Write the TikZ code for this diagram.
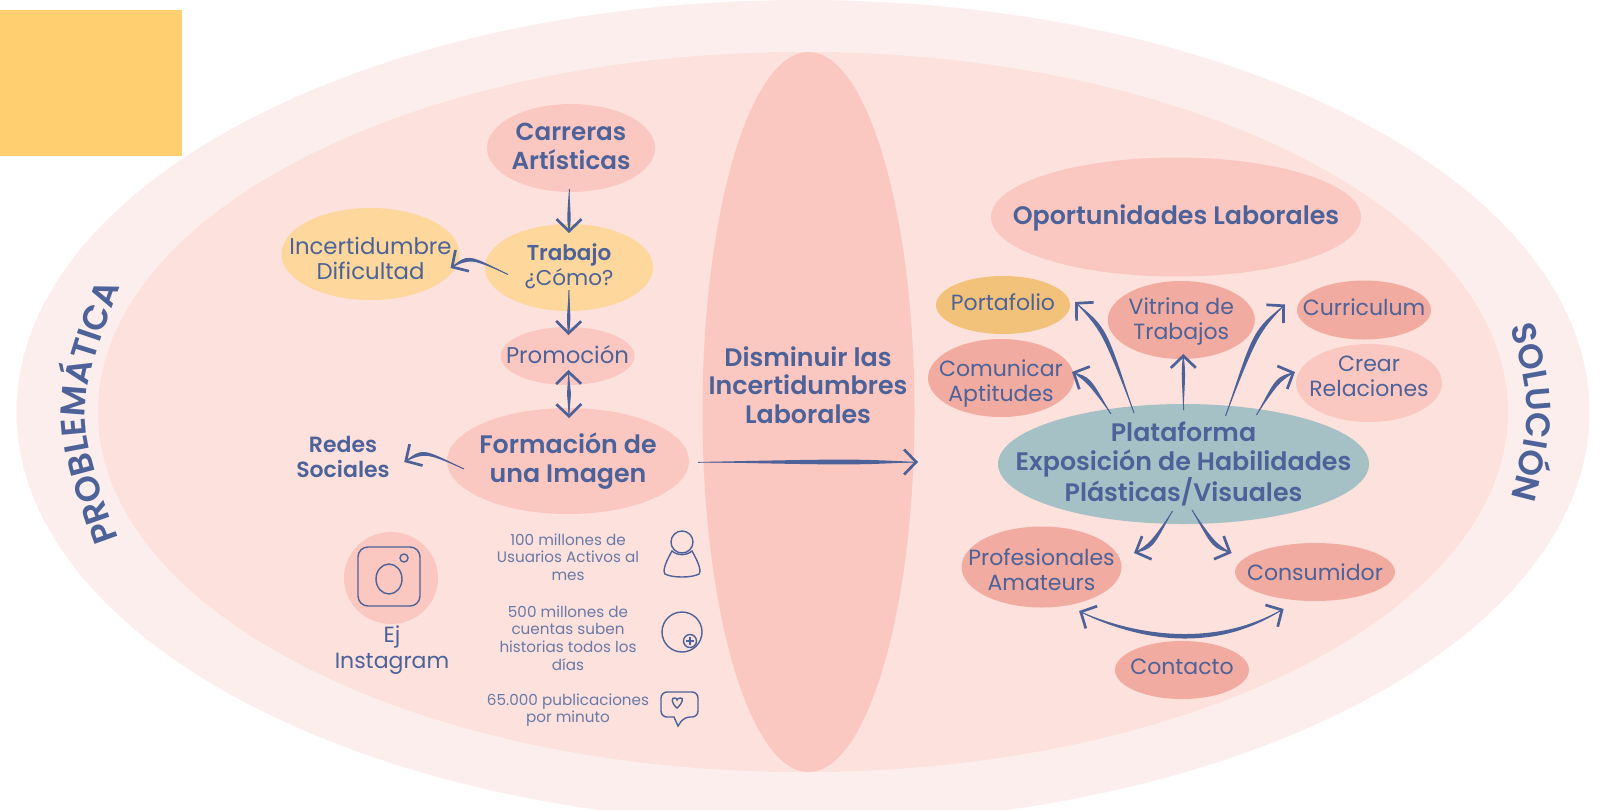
\documentclass[tikz,border=0pt]{standalone}
\usepackage{fontspec}
\setmainfont{Poppins}[BoldFont={Poppins SemiBold}]
\usepackage{xcolor}
\definecolor{azul}{RGB}{76, 98, 152}
\definecolor{rosaclaro}{RGB}{252, 238, 236}
\definecolor{rosafondo}{RGB}{253, 225, 220}
\definecolor{rosa}{RGB}{250, 200, 193}
\definecolor{salmon}{RGB}{241, 171, 160}
\definecolor{amarillo}{RGB}{253, 215, 155}
\definecolor{amarillofuerte}{RGB}{255, 207, 112}
\definecolor{mostaza}{RGB}{242, 194, 123}
\definecolor{verdoso}{RGB}{166, 193, 197}
\usetikzlibrary{arrows.meta, bending, calc, shapes.geometric, decorations.text}
\tikzset{
  burbuja/.style 2 args={ellipse, minimum width=#1pt, minimum height=#2pt, inner xsep=-250pt, inner ysep=-120pt, outer sep=0pt, align=center, text=azul},
  texto/.style={font=\fontsize{#1}{25.5}\selectfont, text=azul, align=center},
  texto/.default=22,
  negrita/.style={font=\fontsize{#1}{28.5}\selectfont\bfseries, text=azul, align=center},
  negrita/.default=25.3,
  chico/.style={font=\fontsize{15.2}{17.6}\selectfont, text=azul!85, align=center},
  flecha/.style={azul, line width=1pt, -{Straight Barb[length=12pt, width=25pt, line width=2.7pt, flex=0]}},
  flechadoble/.style={azul, line width=1pt, {Straight Barb[length=12pt, width=25pt, line width=2.7pt, flex=0]}-{Straight Barb[length=12pt, width=25pt, line width=2.7pt, flex=0]}},
  icono/.style={draw=azul, line width=1.4pt}
}
\newcommand{\flecha}[4][2.2pt]{%
  \coordinate (fC) at ($#2!.7!#3!#4!90:#3$);
  \draw[flecha] #2 .. controls (fC) .. #3;
  \fill[azul] #2 .. controls ($(fC)!#1!90:#3$) .. #3 .. controls ($(fC)!#1!-90:#3$) .. #2;
}
\newcommand{\bajo}[1]{\rule{0pt}{#1}}
\newcommand{\alto}[1]{\rule[-#1]{0pt}{#1}}

\begin{document}
\begin{tikzpicture}[x=1pt, y=-1pt]
  \useasboundingbox (0,0) rectangle (1605,809);
  \clip (0,0) rectangle (1605,809);
  \node[burbuja={1573}{824}, fill=rosaclaro] (exterior) at (803,412) {};
  \node[burbuja={1410}{720}, fill=rosafondo] (interior) at (803,412) {};
  \node[burbuja={212}{720}, fill=rosa] (centro) at (808.5,412) {};
  \fill[amarillofuerte] (0,10) rectangle (182,156);

  \path[decorate, decoration={text along path, text align=center, text color=azul,
    text={|\fontsize{34.5}{34.5}\selectfont\bfseries|PROBLEMÁTICA}}] (124,555) .. controls (72,412) .. (126,270);
  \path[decorate, decoration={text along path, text align=center, text color=azul,
    text={|\fontsize{34}{34}\selectfont\bfseries|SOLUCIÓN}}] (1507,312) .. controls (1533,412) .. (1507,512);

  \node[burbuja={168}{88}, fill=rosa, negrita=24.6] (carreras) at (571,148) {Carreras\\\alto{3pt}Artísticas};
  \node[burbuja={168}{87}, fill=amarillo, texto=21.5] (trabajo) at (569,267.5) {\textbf{Trabajo}\\\alto{6pt}¿Cómo?};
  \node[burbuja={178}{92}, fill=amarillo, texto=22.8] (incertidumbre) at (370.5,254) {\bajo{26pt}Incertidumbre\\Dificultad};
  \node[burbuja={134}{58}, fill=rosa, texto=22.8] (promocion) at (567.5,356) {\alto{4pt}Promoción};
  \node[burbuja={242}{106}, fill=rosa, negrita] (formacion) at (568,461) {Formación de\\una Imagen};
  \node[texto, font=\fontsize{22}{25.5}\selectfont\bfseries] (redes) at (343,457) {Redes\\Sociales};
  \node[burbuja={94}{92}, fill=rosa] (instagram) at (391,578) {};
  \node[texto] (ej) at (392,650) {Ej\\Instagram};
  \node[chico] (usuarios) at (568,557) {100 millones de\\Usuarios Activos al\\mes};
  \node[chico] (historias) at (568,638) {500 millones de\\cuentas suben\\historias todos los\\días};
  \node[chico] (publicaciones) at (568,710) {65.000 publicaciones\\por minuto};

  \node[negrita] (disminuir) at (808,385) {Disminuir las\\Incertidumbres\\Laborales};

  \node[burbuja={370}{119}, fill=rosa, negrita] (oportunidades) at (1176,217) {\bajo{22pt}Oportunidades Laborales};
  \node[burbuja={134}{58}, fill=mostaza, texto] (portafolio) at (1003,305) {\alto{6pt}Portafolio};
  \node[burbuja={146}{78}, fill=salmon, texto] (comunicar) at (1001,378) {\bajo{28pt}Comunicar\\Aptitudes};
  \node[burbuja={147}{78}, fill=salmon, texto] (vitrina) at (1181.3,320) {\bajo{20pt}Vitrina de\\Trabajos};
  \node[burbuja={134}{59}, fill=salmon, texto] (curriculum) at (1364,310) {\alto{6pt}Curriculum};
  \node[burbuja={146}{78}, fill=rosa, texto] (crear) at (1369,383) {Crear\\\alto{14pt}Relaciones};
  \node[burbuja={371}{120}, fill=verdoso, negrita] (plataforma) at (1183.5,464) {Plataforma\\Exposición de Habilidades\\Plásticas/Visuales};
  \node[burbuja={160}{81}, fill=salmon, texto] (profesionales) at (1041.5,567) {\bajo{22pt}Profesionales\\Amateurs};
  \node[burbuja={160}{58}, fill=salmon, texto] (consumidor) at (1315,572) {Consumidor};
  \node[burbuja={134}{58}, fill=salmon, texto] (contacto) at (1182,670) {\alto{6pt}Contacto};

  \coordinate (finlargo) at (918,462);
  \flecha{($(carreras.south)+(-2,-3)$)}{($(trabajo.north)+(0,9)$)}{0pt}
  \flecha{($(trabajo.south)+(0,-21)$)}{($(promocion.north)+(1,8)$)}{0pt}
  \draw[flechadoble] ($(promocion.south)+(1,-15)$) -- ($(formacion.north)+(1,10)$);
  \fill[azul] ($(promocion.south)+(1,-15)$) -- (571,394) -- ($(formacion.north)+(1,10)$) -- (567,394) -- cycle;
  \flecha[3pt]{($(trabajo.west)+(23,7)$)}{($(incertidumbre.east)+(-9,14)$)}{-14pt}
  \flecha[3pt]{($(formacion.west)+(17,8)$)}{($(redes.east)+(11,5)$)}{-14pt}
  \flecha[3.2pt]{($(formacion.east)+(9,1)$)}{(finlargo)}{0pt}

  \flecha[3.2pt]{($(plataforma.north)+(-49.5,9)$)}{($(portafolio.east)+(5,-3)$)}{-13pt}
  \flecha[3.2pt]{($(plataforma.north)+(-72.5,10)$)}{($(comunicar.east)+(-2,-6)$)}{-7pt}
  \flecha{($(plataforma.north)+(0,6)$)}{($(vitrina.south)+(2,-5)$)}{0pt}
  \flecha[3.2pt]{($(plataforma.north)+(42,12)$)}{($(curriculum.west)+(-12,-5.5)$)}{13pt}
  \flecha[3.2pt]{($(plataforma.north)+(73,11)$)}{($(crear.west)+(-1,-11)$)}{8pt}
  \flecha[3.2pt]{($(plataforma.south)+(-11,-13)$)}{($(profesionales.east)+(12.5,-14)$)}{8pt}
  \flecha[3.2pt]{($(plataforma.south)+(8.5,-14)$)}{($(consumidor.west)+(-3.4,-19)$)}{-8pt}
  \draw[flechadoble] ($(profesionales.south)+(37.6,3.5)$) .. controls (1146,645) and (1220,645) .. ($(consumidor.south)+(-31.4,8)$);
  \fill[azul] ($(profesionales.south)+(37.6,3.5)$) .. controls (1151,642) and (1225,642) .. ($(consumidor.south)+(-31.4,8)$) .. controls (1225,648) and (1151,648) .. ($(profesionales.south)+(37.6,3.5)$);

  \draw[icono, rounded corners=10pt] (358,547) rectangle (420,606);
  \draw[icono] (389,579) ellipse (13 and 15);
  \draw[icono] (404,558) circle (4);
  \draw[icono] (682,542) circle (11);
  \draw[icono] (672,551) .. controls (667,560) and (662,570) .. (665,574) .. controls (672,578) and (692,578) .. (699,574) .. controls (702,570) and (697,560) .. (692,551) .. controls (686,556) and (678,556) .. cycle;
  \draw[icono] (682,632) circle (20);
  \draw[icono, fill=rosafondo] (690,641) circle (6.5);
  \draw[icono, line width=1.1pt] (686,641) -- (694,641) (690,637) -- (690,645);
  \draw[icono, rounded corners=6pt] (674,717) -- (661,717) -- (661,692) -- (698,692) -- (698,717) -- (684,717) [sharp corners] -- (678,726) -- cycle;
  \draw[icono] (677,708) .. controls (671,703) and (671,697) .. (675,698) .. controls (676,698) and (677,699) .. (677,700) .. controls (677,699) and (679,698) .. (680,698) .. controls (684,697) and (683,703) .. (677,708) -- cycle;
\end{tikzpicture}
\end{document}
